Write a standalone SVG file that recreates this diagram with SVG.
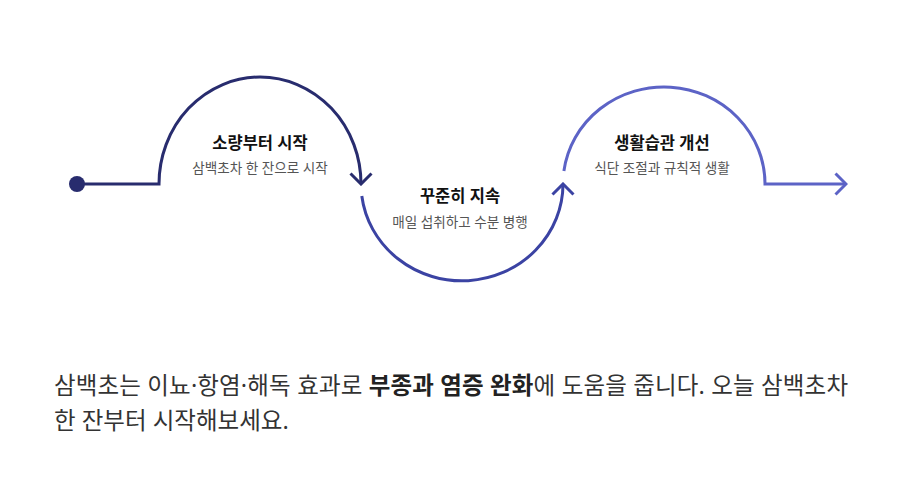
<svg xmlns="http://www.w3.org/2000/svg" width="905" height="483" viewBox="0 0 905 483">
<style>
.title{font-family:"Noto Sans","Noto Sans CJK KR",sans-serif;font-weight:700;font-size:16.5px;fill:#111;text-anchor:middle}
.sub{font-family:"Noto Sans","Noto Sans CJK KR",sans-serif;font-weight:400;font-size:13.6px;fill:#555;text-anchor:middle}
.para{font-family:"Noto Sans","Noto Sans CJK KR",sans-serif;font-weight:400;font-size:23.5px;fill:#333}
.b{font-weight:700;fill:#222}
.seg{fill:none;stroke-width:3;stroke-linejoin:miter}
</style>
<defs>
<marker id="ah1" markerUnits="userSpaceOnUse" viewBox="-12 -12 14 24" markerWidth="14" markerHeight="24" refX="0" refY="0" orient="auto"><path d="M-10.5,-10.5 L0,0 L-10.5,10.5" fill="none" stroke="#282c6e" stroke-width="3"/></marker>
<marker id="ah2" markerUnits="userSpaceOnUse" viewBox="-12 -12 14 24" markerWidth="14" markerHeight="24" refX="0" refY="0" orient="auto"><path d="M-10.5,-10.5 L0,0 L-10.5,10.5" fill="none" stroke="#3b43a3" stroke-width="3"/></marker>
<marker id="ah3" markerUnits="userSpaceOnUse" viewBox="-12 -12 14 24" markerWidth="14" markerHeight="24" refX="0" refY="0" orient="auto"><path d="M-10.5,-10.5 L0,0 L-10.5,10.5" fill="none" stroke="#5c63c6" stroke-width="3"/></marker>
</defs>
<g id="connectors">
<circle cx="77" cy="184" r="8" fill="#282c6e"/>
<path class="seg" stroke="#282c6e" d="M77,184 L159,184 A101,107 0 0 1 361,184" marker-end="url(#ah1)"/>
<path class="seg" stroke="#3b43a3" d="M361.8,196 A101,97 0 0 0 563,184" marker-end="url(#ah2)"/>
<path class="seg" stroke="#5c63c6" d="M563.9,171 A101,97 0 0 1 765,184 L846,184" marker-end="url(#ah3)"/>
</g>
<g id="node1">
<text class="title" x="260" y="149">소량부터 시작</text>
<text class="sub" x="260" y="173">삼백초차 한 잔으로 시작</text>
</g>
<g id="node2">
<text class="title" x="460" y="202">꾸준히 지속</text>
<text class="sub" x="460" y="227">매일 섭취하고 수분 병행</text>
</g>
<g id="node3">
<text class="title" x="662" y="149">생활습관 개선</text>
<text class="sub" x="662" y="173">식단 조절과 규칙적 생활</text>
</g>
<g id="paragraph">
<text class="para" x="54" y="394" textLength="794" lengthAdjust="spacing">삼백초는 이뇨·항염·해독 효과로 <tspan class="b">부종과 염증 완화</tspan>에 도움을 줍니다. 오늘 삼백초차</text>
<text class="para" x="54" y="429">한 잔부터 시작해보세요.</text>
</g>
</svg>
